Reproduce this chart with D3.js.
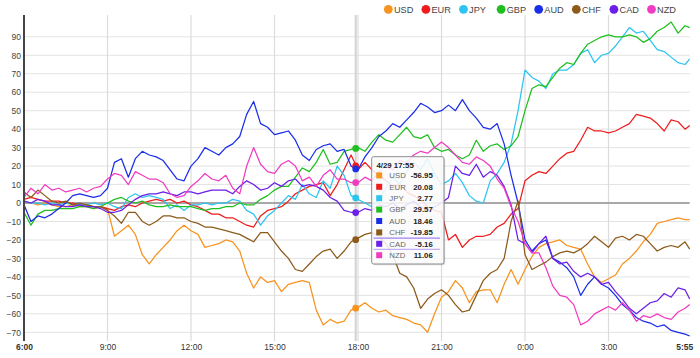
<!DOCTYPE html>
<html><head><meta charset="utf-8">
<script src="https://cdn.jsdelivr.net/npm/d3@7"></script>
<style>
body{margin:0;background:#fff;}
svg{display:block;font-family:"Liberation Sans",Arial,sans-serif;}
</style>
</head><body>
<svg id="chart" width="700" height="358"></svg>
<script>
// ---------- data ----------
const currencies = ["USD","EUR","JPY","GBP","AUD","CHF","CAD","NZD"];
const colors = ["#f7931e","#ee1c1c","#2dc4f0","#1fbf1f","#1a2ee8","#8c5a1a","#6b1fe8","#f03cc0"];

// values every 15 minutes from 4/29 6:00 to 4/30 5:45, plus 5:55
const usd = [1,0,-1,0,-1,-2,-2,-1,-2,-2,-3,-2,-3,-18,-15,-12,-17,-28,-33,-28,-24,-20,-15,-12,-15,
  -17,-24,-23,-22,-20,-21,-26,-38,-46,-40,-43,-42,-48,-44,-43,-42,-43,-58,-66,-63,-65,-64,-58,
  -56.5,-54,-57,-59,-58,-61,-62,-63,-65,-66,-70,-60,-51,-48,-42,-46,-54,-48,-47,-47,-54,-44,-36,-44,-36,
  -29,-24,-22,-21,-20,-23,-24,-25,-33,-40,-43,-41,-39,-33,-30,-26,-21,-17,-11,-10,-9,-8,-9,-9];
const eur = [2,3,2,1,1,1,0,0,-1,-1,-2,-2,-3,-4,-2,-1,-2,0,1,2,1,2,0,1,-1,
  -2,-4,-6,-6,-8,-8,-10,-12,-13,-7,-4,-3,-2,1,5,7,9,10,11,4,10,18,26,
  18,22,18,15,12,9,10,6,4,2,-2,-4,-5,-20,-17,-24,-20,-18,-18,-17,-13,-11,-6,-3,12,
  15,17,16,20,24,27,28,34,41,39,39,38,39,41,43,48,47,46,43,39,45,44,40,42];
const jpy = [1,0,0,-1,0,-1,0,-1,-1,-1,0,-1,0,-2,-3,3,5,3,4,3,2,-3,-1,-4,-1,
  -1,0,-1,0,0,2,1,-4,-6,-12,-7,-4,0,4,2,10,5,3,12,8,20,15,4,
  2,0,-2,2,8,14,10,17,22,18,24,16,10,12,16,11,4,1,0,12,16,22,32,50,72,
  68,66,62,70,72,72,75,81,83,76,80,81,85,90,95,92,93,88,83,82,79,76,75,78];
const gbp = [-5,-12,-6,-4,-4,-3,-3,-3,-2,-2,-3,-2,0,2,3,1,0,1,-1,-2,-2,-1,-2,-2,-2,
  -3,-4,-3,-3,-2,-2,0,-1,-1,2,4,7,9,9,14,19,17,22,29,21,22,28,29,
  30,28,33,37,34,33,37,41,36,35,37,30,28,29,26,24,26,34,28,31,32,29,31,36,50,
  62,64,63,68,73,76,75,81,86,88,90,91,90,90,91,90,87,89,93,95,98,92,96,95];
const aud = [-1,-10,-7,-8,-6,-3,0,4,5,4,3,4,8,22,24,14,24,28,26,25,23,18,13,12,20,
  24,30,28,26,30,32,36,48,55,43,41,37,38,39,34,26,23,29,31,32,28,29,20,
  18,25,30,36,39,43,41,45,49,54,52,49,50,53,50,56,50,46,41,40,43,32,15,0,-20,
  -26,-22,-20,-30,-32,-35,-40,-50,-44,-40,-44,-46,-50,-55,-58,-62,-64,-65,-67,-66,-69,-70,-71,-72];
const chf = [6,3,7,4,1,0,1,-1,0,-1,-2,-2,-4,-7,-11,-5,-5,-10,-12,-10,-7,-7,-8,-8,-10,
  -11,-13,-13,-14,-15,-16,-17,-19,-21,-16,-16,-21,-26,-30,-36,-37,-33,-29,-26,-25,-30,-26,-21,
  -19,-17,-16,-18,-22,-28,-38,-40,-46,-57,-52,-49,-47,-50,-55,-59,-58,-50,-42,-38,-36,-30,-10,1,-28,
  -36,-34,-32,-29,-27,-26,-27,-25,-22,-18,-21,-24,-19,-18,-20,-17,-18,-22,-26,-24,-23,-24,-21,-25];
const cad = [1,0,2,1,-1,-1,-2,-2,-1,-2,-2,-3,-5,-5,-4,-1,2,4,5,5,6,5,4,6,6,
  5,6,7,7,7,5,9,12,10,7,8,11,9,12,13,9,10,9,7,3,1,-4,-5,
  -5,-3,-4,-1,-2,0,-3,-1,1,-2,-4,-2,0,3,20,16,15,21,14,17,15,9,-1,-20,-22,
  -27,-22,-18,-30,-33,-32,-37,-40,-38,-40,-44,-43,-48,-52,-57,-60,-57,-54,-53,-49,-51,-46,-47,-52];
const nzd = [3,8,5,10,7,8,6,7,8,6,8,9,13,16,15,10,17,15,13,13,11,5,3,4,9,
  12,16,13,12,15,8,5,20,30,21,17,16,21,23,20,12,14,9,15,18,13,13,11,
  11,14,12,17,20,18,23,22,26,28,27,30,33,30,26,22,21,25,23,20,13,8,-2,-10,-22,
  -27,-27,-35,-45,-50,-51,-55,-66,-64,-60,-58,-56,-58,-54,-58,-64,-61,-62,-60,-62,-63,-59,-57,-55];
const seriesValues = [usd, eur, jpy, gbp, aud, chf, cad, nzd];

// tooltip (hover at 4/29 17:55)
const hoverLabel = "4/29 17:55";
const hoverValues = [-56.95, 20.08, 2.77, 29.57, 18.46, -19.85, -5.16, 11.06];
const highlighted = "CAD";

const yTicks = [90,80,70,60,50,40,30,20,10,0,-10,-20,-30,-40,-50,-60,-70];
const xTickLabels = ["6:00","9:00","12:00","15:00","18:00","21:00","0:00","3:00","5:55"];

// ---------- time axis ----------
const t0 = new Date(2013, 3, 29, 6, 0);
const t1 = d3.timeMinute.offset(t0, 1435);
const times = d3.range(96).map(i => d3.timeMinute.offset(t0, 15 * i)).concat([t1]);
const hoverTime = d3.timeMinute.offset(t0, 715);
const xTickTimes = d3.range(8).map(k => d3.timeMinute.offset(t0, 180 * k)).concat([t1]);

const svg = d3.select("#chart");
const x = d3.scaleTime().domain([t0, t1]).range([24, 689.7]);
const y = d3.scaleLinear().domain([-70, 90]).range([332.3, 36.8]);
const plotTop = 15, plotBottom = 341;

// grid
const grid = svg.append("g");
grid.selectAll("line.h").data(yTicks.filter(v => v !== 0)).join("line")
  .attr("x1", x(t0)).attr("x2", x(t1))
  .attr("y1", d => y(d)).attr("y2", d => y(d))
  .attr("stroke", "#e3e3e3").attr("stroke-width", 1);
grid.selectAll("line.v").data(xTickTimes.slice(1, 8)).join("line")
  .attr("x1", d => x(d)).attr("x2", d => x(d))
  .attr("y1", plotTop).attr("y2", plotBottom)
  .attr("stroke", "#dcdcdc").attr("stroke-width", 1.2);

// hover line
svg.append("line").attr("x1", x(hoverTime)).attr("x2", x(hoverTime))
  .attr("y1", plotTop).attr("y2", plotBottom)
  .attr("stroke", "#d2d2d2").attr("stroke-width", 2);

// zero line
svg.append("line").attr("x1", x(t0)).attr("x2", x(t1))
  .attr("y1", y(0)).attr("y2", y(0))
  .attr("stroke", "#a8a8a8").attr("stroke-width", 2);

// series
const line = d3.line().x((d, i) => x(times[i])).y(d => y(d));
svg.append("g").selectAll("path").data(seriesValues).join("path")
  .attr("d", d => line(d))
  .attr("fill", "none")
  .attr("stroke", (d, i) => colors[i])
  .attr("stroke-width", 1.25)
  .attr("stroke-linejoin", "round");

// hover dots
svg.append("g").selectAll("circle").data(hoverValues).join("circle")
  .attr("cx", x(hoverTime)).attr("cy", d => y(d)).attr("r", 3.4)
  .attr("fill", (d, i) => colors[i]);

// y axis
const yAxis = svg.append("g").attr("transform", "translate(24,0)")
  .call(d3.axisLeft(y).tickValues(yTicks).tickSize(0).tickPadding(3).tickFormat(d3.format("d")));
yAxis.select(".domain").remove();
yAxis.selectAll("text").attr("font-size", 8.5).attr("fill", "#444")
  .attr("font-family", '"Liberation Sans",Arial,sans-serif');
svg.append("line").attr("x1", 24).attr("x2", 24).attr("y1", plotTop).attr("y2", plotBottom)
  .attr("stroke", "#444").attr("stroke-width", 2);

// x axis
const xAxis = svg.append("g").attr("transform", "translate(0,344)")
  .call(d3.axisBottom(x).tickValues(xTickTimes).tickSize(0).tickPadding(0)
    .tickFormat((d, i) => xTickLabels[i]));
xAxis.select(".domain").remove();
xAxis.selectAll("text").attr("font-size", 8.5).attr("fill", "#333")
  .attr("font-family", '"Liberation Sans",Arial,sans-serif')
  .attr("font-weight", (d, i) => (i === 0 || i === xTickLabels.length - 1) ? "bold" : "normal")
  .attr("text-anchor", (d, i) => i === xTickLabels.length - 1 ? "end" : "middle")
  .attr("dx", (d, i) => i === xTickLabels.length - 1 ? 3 : 0);

// legend
const legend = svg.append("g").selectAll("g").data(currencies).join("g")
  .attr("transform", (d, i) => `translate(${388.3 + 37.6 * i},9.3)`);
legend.append("circle").attr("r", 4.4).attr("fill", (d, i) => colors[i]);
legend.append("text").attr("x", 5.6).attr("y", 3.2).text(d => d)
  .attr("font-size", 9.2).attr("fill", "#444");

// tooltip
const tt = svg.append("g");
const bx = 371.7, by = 156.7, bw = 72.3, bh = 107.3;
tt.append("rect").attr("x", bx + 1.2).attr("y", by + 1.2).attr("width", bw).attr("height", bh)
  .attr("rx", 2).attr("fill", "#000").attr("opacity", 0.12);
tt.append("rect").attr("x", bx).attr("y", by).attr("width", bw).attr("height", bh)
  .attr("rx", 2).attr("fill", "#fff").attr("fill-opacity", 0.86)
  .attr("stroke", "#8a8a8a").attr("stroke-width", 1);
tt.append("text").attr("x", 376.5).attr("y", 168).text(hoverLabel)
  .attr("font-size", 7.8).attr("font-weight", "bold").attr("fill", "#222");
const rowY = i => 175.4 + 11.4 * i;
const hi = currencies.indexOf(highlighted);
[rowY(hi) - 5.6, rowY(hi) + 5.6].forEach((yy, k) => {
  tt.append("line").attr("x1", 373.5).attr("x2", 440).attr("y1", yy).attr("y2", yy)
    .attr("stroke", "#a07cf2").attr("stroke-width", 1.3).attr("opacity", k === 0 ? 0.95 : 0.6);
});
const rows = tt.selectAll("g.row").data(currencies).join("g")
  .attr("transform", (d, i) => `translate(0,${rowY(i)})`);
rows.append("rect").attr("x", 376.2).attr("y", -3).attr("width", 6).attr("height", 6)
  .attr("fill", (d, i) => colors[i]);
rows.append("text").attr("x", 389.3).attr("y", 2.8).text(d => d)
  .attr("font-size", 7.8).attr("fill", "#666");
rows.append("text").attr("x", 432.8).attr("y", 2.8).attr("text-anchor", "end")
  .text((d, i) => d3.format(".2f")(hoverValues[i]).replace("−", "-"))
  .attr("font-size", 7.8).attr("font-weight", "bold").attr("fill", "#222");
</script>
</body></html>
